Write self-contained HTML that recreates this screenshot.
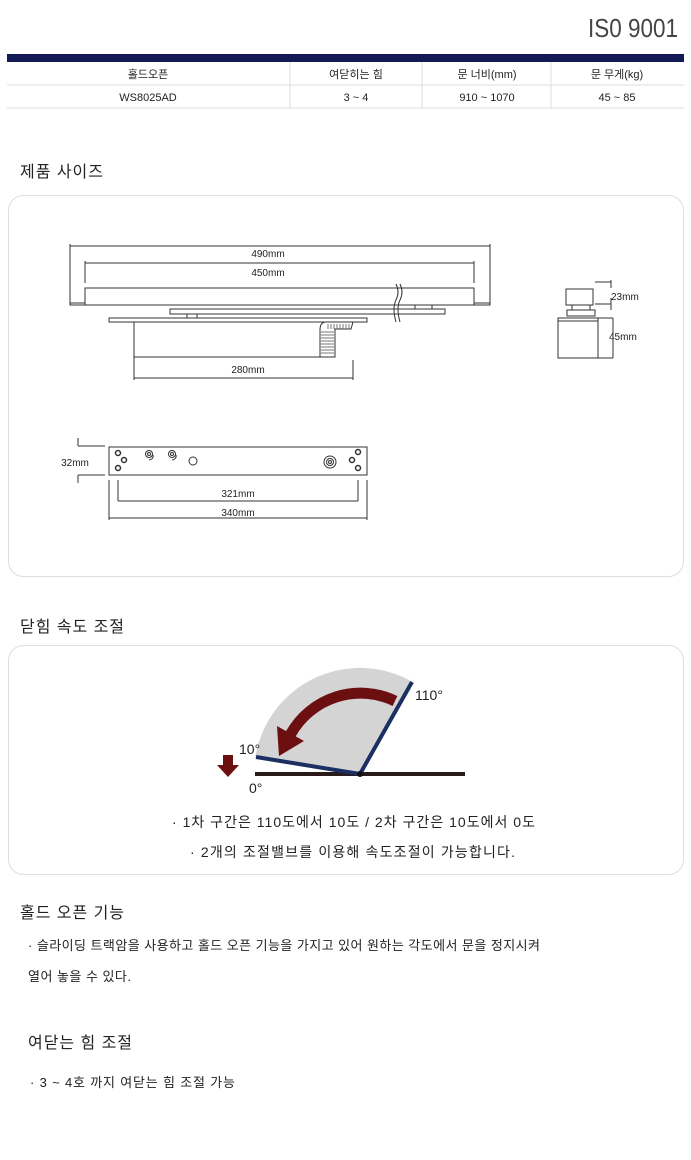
<!DOCTYPE html>
<html><head><meta charset="utf-8"><style>
body{margin:0;background:#fff;width:691px;height:1160px;overflow:hidden}
svg{display:block}
text{font-family:"Liberation Sans","Noto Sans CJK KR",sans-serif;fill:#222}
</style></head><body>
<svg width="691" height="1160" viewBox="0 0 691 1160" xmlns="http://www.w3.org/2000/svg">
<text x="588" y="37" font-size="26" textLength="90" lengthAdjust="spacingAndGlyphs" style="fill:#444">IS0 9001</text>
<rect x="7" y="54" width="677" height="8" fill="#141a55"/>
<line x1="7" y1="85" x2="684" y2="85" stroke="#ddd"/>
<line x1="7" y1="108" x2="684" y2="108" stroke="#ddd"/>
<g stroke="#ddd"><line x1="290" y1="62" x2="290" y2="108"/><line x1="422" y1="62" x2="422" y2="108"/><line x1="551" y1="62" x2="551" y2="108"/></g>
<g font-size="11" text-anchor="middle">
<text x="148" y="78">홀드오픈</text><text x="356" y="78">여닫히는 힘</text><text x="487" y="78">문 너비(mm)</text><text x="617" y="78">문 무게(kg)</text>
<text x="148" y="101">WS8025AD</text><text x="356" y="101">3 ~ 4</text><text x="487" y="101">910 ~ 1070</text><text x="617" y="101">45 ~ 85</text>
</g>

<text x="20" y="177" font-size="16" textLength="83">제품 사이즈</text>
<rect x="8.5" y="195.5" width="675" height="381" rx="15" fill="none" stroke="#ddd"/>
<g stroke="#333" stroke-width="1" fill="none">
<line x1="70" y1="246" x2="490" y2="246"/><line x1="70" y1="244" x2="70" y2="303"/><line x1="490" y1="244" x2="490" y2="303"/>
<line x1="85" y1="263" x2="474" y2="263"/><line x1="85" y1="261" x2="85" y2="283"/><line x1="474" y1="261" x2="474" y2="283"/>
<rect x="85" y="288" width="389" height="17" fill="#fff"/>
<rect x="70" y="303" width="15" height="2"/><rect x="474" y="303" width="16" height="2"/>
<rect x="170" y="309" width="275" height="5"/>
<line x1="415" y1="305" x2="415" y2="309"/><line x1="432" y1="305" x2="432" y2="309"/>
<rect x="109" y="318" width="258" height="4"/>
<line x1="187" y1="314" x2="187" y2="318"/><line x1="197" y1="314" x2="197" y2="318"/>
<path d="M134 322 V357 H320"/>
<path d="M320 357 V330 Q320 322 326 322 H353 L351 329 H335 V357 H320"/>
<line x1="134" y1="378" x2="353" y2="378"/><line x1="134" y1="357" x2="134" y2="380"/><line x1="353" y1="360" x2="353" y2="380"/>
</g>
<path d="M396 284 q4 8 0 16 q-4 8 0 22 M400 284 q4 8 0 16 q-4 8 0 22" stroke="#333" fill="none"/>
<g stroke="#555" stroke-width="0.8">
<line x1="328" y1="324" x2="328" y2="329"/><line x1="331" y1="324" x2="331" y2="329"/><line x1="334" y1="324" x2="334" y2="329"/><line x1="337" y1="324" x2="337" y2="329"/><line x1="340" y1="324" x2="340" y2="329"/><line x1="343" y1="324" x2="343" y2="329"/><line x1="346" y1="324" x2="346" y2="329"/><line x1="349" y1="324" x2="349" y2="329"/>
<line x1="321" y1="332" x2="334" y2="332"/><line x1="321" y1="335" x2="334" y2="335"/><line x1="321" y1="338" x2="334" y2="338"/><line x1="321" y1="341" x2="334" y2="341"/><line x1="321" y1="344" x2="334" y2="344"/><line x1="321" y1="347" x2="334" y2="347"/><line x1="321" y1="350" x2="334" y2="350"/><line x1="321" y1="353" x2="334" y2="353"/>
</g>
<g font-size="10" text-anchor="middle"><text x="268" y="257">490mm</text><text x="268" y="276">450mm</text><text x="248" y="373">280mm</text></g>

<g stroke="#333" fill="none">
<rect x="566" y="289" width="27" height="16"/><rect x="572" y="305" width="18" height="5"/><rect x="567" y="310" width="28" height="6"/>
<rect x="558" y="318" width="40" height="40"/><line x1="558" y1="321" x2="598" y2="321"/>
<line x1="595" y1="282" x2="611" y2="282"/><line x1="611" y1="280" x2="611" y2="288"/>
<line x1="595" y1="304" x2="611" y2="304"/><line x1="611" y1="298" x2="611" y2="310"/>
<line x1="598" y1="318" x2="613" y2="318"/><line x1="613" y1="318" x2="613" y2="358"/><line x1="598" y1="358" x2="613" y2="358"/>
</g>
<g font-size="10"><text x="611" y="300">23mm</text><text x="609" y="340">45mm</text></g>

<g stroke="#333" fill="none">
<rect x="109" y="447" width="258" height="28"/>
<line x1="78" y1="446" x2="105" y2="446"/><line x1="78" y1="438" x2="78" y2="446"/>
<line x1="78" y1="475" x2="105" y2="475"/><line x1="78" y1="475" x2="78" y2="483"/>
<line x1="118" y1="480" x2="118" y2="501"/><line x1="358" y1="480" x2="358" y2="501"/><line x1="118" y1="501" x2="358" y2="501"/>
<line x1="109" y1="480" x2="109" y2="520"/><line x1="367" y1="480" x2="367" y2="520"/><line x1="109" y1="518" x2="367" y2="518"/>
<g stroke-width="1.5"><circle cx="118" cy="453" r="2.5"/><circle cx="124" cy="460" r="2.5"/><circle cx="118" cy="468" r="2.5"/>
<circle cx="358" cy="452" r="2.5"/><circle cx="352" cy="460" r="2.5"/><circle cx="358" cy="468" r="2.5"/></g>
<circle cx="149" cy="454" r="3.5"/><circle cx="149" cy="454" r="1.5"/><path d="M153 455 q1 4 -4 5"/>
<circle cx="172" cy="454" r="3.5"/><circle cx="172" cy="454" r="1.5"/><path d="M176 455 q1 4 -4 5"/>
<circle cx="193" cy="461" r="4"/>
<circle cx="330" cy="462" r="6"/><circle cx="330" cy="462" r="3.5"/><circle cx="330" cy="462" r="1.5"/>
</g>
<g font-size="10" text-anchor="middle"><text x="75" y="466">32mm</text><text x="238" y="497">321mm</text><text x="238" y="516">340mm</text></g>

<text x="20" y="632" font-size="16" textLength="104">닫힘 속도 조절</text>
<rect x="8.5" y="645.5" width="675" height="229" rx="15" fill="none" stroke="#ddd"/>
<path d="M360 774 L255.4 756.7 A106 106 0 0 1 411.9 681.5 Z" fill="#d4d4d4"/>
<line x1="255" y1="774" x2="465" y2="774" stroke="#2a1a1a" stroke-width="4"/>
<path d="M395 701 A80 80 0 0 0 290.7 734" stroke="#6b0f10" stroke-width="11" fill="none"/>
<path d="M304 741 L277 726 L279 756 Z" fill="#6b0f10"/>
<line x1="360" y1="774" x2="256" y2="757" stroke="#1b2f62" stroke-width="4"/>
<line x1="360" y1="774" x2="412" y2="682" stroke="#1b2f62" stroke-width="4"/>
<circle cx="360" cy="774" r="3" fill="#111"/>
<path d="M223 755 h10 v10 h6 l-11 12 l-11 -12 h6 z" fill="#6b0f10"/>
<text x="415" y="700" font-size="14">110°</text>
<text x="239" y="754" font-size="14">10°</text>
<text x="249" y="793" font-size="14">0°</text>
<text x="172" y="827" font-size="14" textLength="363">·  1차 구간은 110도에서 10도 / 2차 구간은 10도에서 0도</text>
<text x="190" y="857" font-size="14" textLength="325">·  2개의 조절밸브를 이용해 속도조절이 가능합니다.</text>

<text x="20" y="918" font-size="16" textLength="104">홀드 오픈 기능</text>
<text x="28" y="950" font-size="13" textLength="512">·  슬라이딩 트랙암을 사용하고 홀드 오픈 기능을 가지고 있어 원하는 각도에서 문을 정지시켜</text>
<text x="28" y="981" font-size="13" textLength="103">열어 놓을 수 있다.</text>
<text x="28" y="1048" font-size="16" textLength="104">여닫는 힘 조절</text>
<text x="30" y="1087" font-size="13" textLength="205">·  3 ~ 4호 까지 여닫는 힘 조절 가능</text>
</svg>
</body></html>
